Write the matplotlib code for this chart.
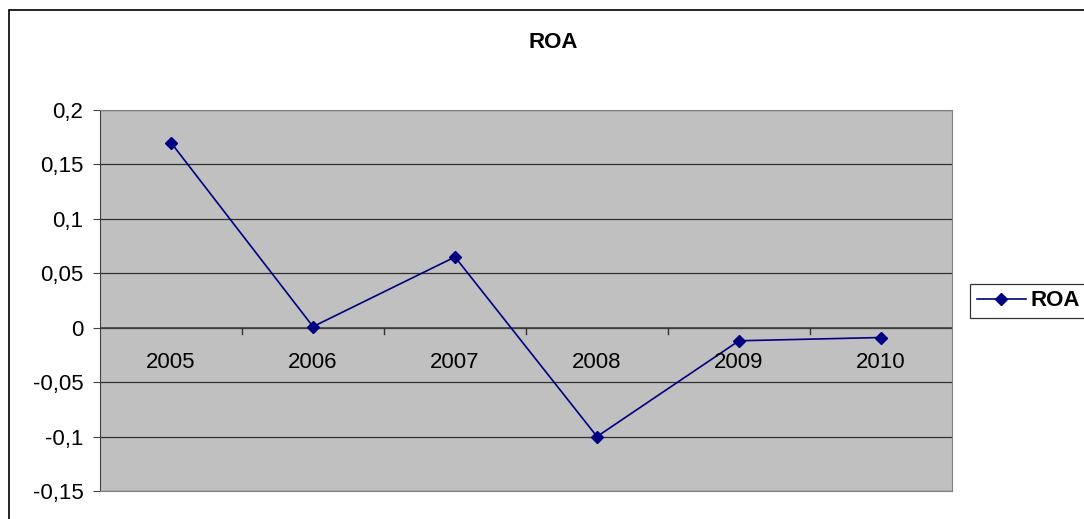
import matplotlib.pyplot as plt
from matplotlib.patches import Rectangle
from matplotlib.ticker import FuncFormatter, MultipleLocator

plt.rcParams["font.family"] = ["Liberation Sans", "DejaVu Sans"]

years = ["2005", "2006", "2007", "2008", "2009", "2010"]
roa = [0.17, 0.001, 0.065, -0.1, -0.012, -0.009]

FS = 16


def comma_fmt(v, pos):
    s = "%g" % round(v, 2)
    return s.replace(".", ",")


def main():
    fig = plt.figure(figsize=(10.84, 5.19), dpi=100)
    W, H = 1084, 519

    # outer chart border (runs off the right and bottom edges)
    fig.patches.append(Rectangle((9 / W, -0.1), 1.2, (H - 10) / H + 0.1,
                                 transform=fig.transFigure, fill=False,
                                 edgecolor="black", linewidth=1.2))

    ax = fig.add_axes([100 / W, (H - 491) / H, 852 / W, 381 / H])
    ax.set_facecolor("#c0c0c0")
    x = list(range(len(years)))
    ax.plot(x, roa, color="#000080", linewidth=1.2, marker="D",
            markersize=6.5, label="ROA")

    ax.set_xlim(-0.5, len(years) - 0.5)
    ax.set_ylim(-0.15, 0.2)
    ax.yaxis.set_major_locator(MultipleLocator(0.05))
    ax.yaxis.set_major_formatter(FuncFormatter(comma_fmt))
    ax.grid(axis="y", color="#303030", linewidth=0.9)
    ax.set_axisbelow(True)

    for side in ["top", "right", "bottom"]:
        ax.spines[side].set_color("#808080")
    ax.spines["left"].set_color("#404040")
    ax.tick_params(axis="y", length=5, color="#404040", labelsize=FS, pad=7)

    # category axis crosses at zero, labels sit below it
    ax.axhline(0, color="#404040", linewidth=1.2, zorder=1.5)
    ax.set_xticks([])
    for b in range(1, len(years)):
        ax.plot([b - 0.5, b - 0.5], [0, -0.006], color="#303030",
                linewidth=1, zorder=1.5)
    for i, yr in enumerate(years):
        ax.text(i, -0.032, yr, ha="center", va="center", fontsize=FS)

    fig.text(553 / W, 1 - 43 / H, "ROA", ha="center", va="center",
             fontsize=FS, fontweight="bold")

    leg = fig.legend(loc="center left", bbox_to_anchor=(970 / W, 1 - 301 / H),
                     frameon=True, fancybox=False, prop={"weight": "bold", "size": FS},
                     handlelength=2.2, handletextpad=0.2, borderpad=0.3,
                     borderaxespad=0)
    leg.get_frame().set_edgecolor("black")
    leg.get_frame().set_linewidth(0.9)

    fig.savefig("out.png", dpi=100)


if __name__ == "__main__":
    main()
